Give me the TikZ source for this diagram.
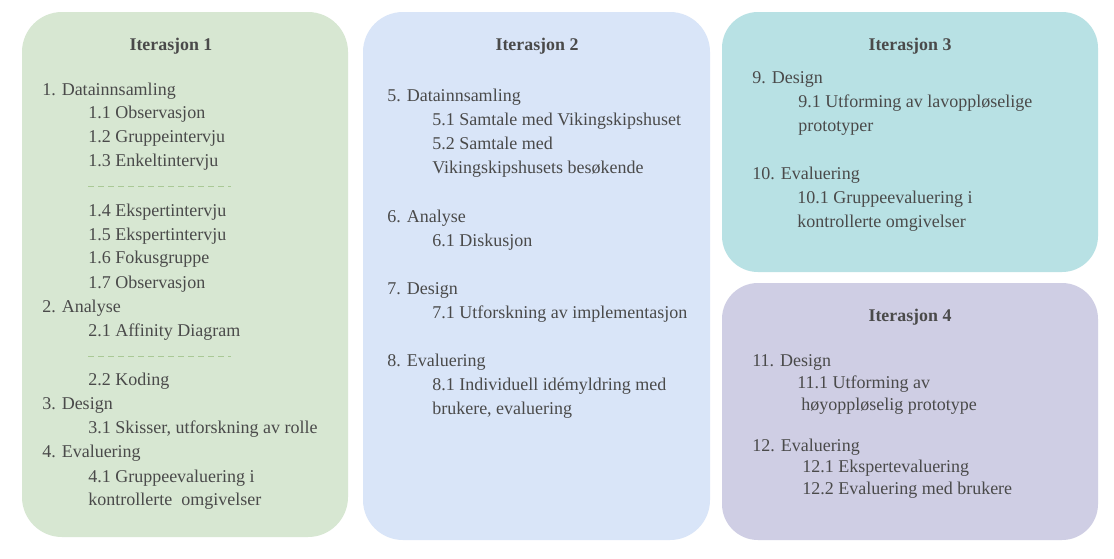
\documentclass[tikz,border=0pt]{standalone}
\usepackage{fontspec}
\setmainfont{Liberation Serif}
\begin{document}
\begin{tikzpicture}[x=0.75pt,y=-0.75pt,
  ttl/.style={font=\fontsize{13.4}{15}\selectfont\bfseries,text=txt,anchor=base,inner sep=0pt},
  itm/.style={font=\fontsize{13.5}{15}\selectfont,text=txt,anchor=base west,inner sep=0pt},
  sep/.style={draw=sepgreen,dash pattern=on 4.5pt off 3pt,line width=0.6pt}]
\definecolor{txt}{HTML}{4A4A4A}
\definecolor{gA}{HTML}{D7E7D2}
\definecolor{bA}{HTML}{D9E5F8}
\definecolor{cA}{HTML}{B8E1E4}
\definecolor{pA}{HTML}{CFCEE4}
\definecolor{sepgreen}{HTML}{A9C995}
\fill[white] (0,0) rectangle (1114,558);
\useasboundingbox (0,0) rectangle (1114,558);
% panels
\fill[gA,rounded corners=30pt] (22,12) rectangle (348,537);
\fill[bA,rounded corners=30pt] (363,12) rectangle (710,540);
\fill[cA,rounded corners=27pt] (722,12) rectangle (1098,272);
\fill[pA,rounded corners=27pt] (722,283) rectangle (1098,540);
% Iterasjon 1
\node[ttl] (t1) at (171,50) {Iterasjon 1};
\node[itm] (a1) at (42,95) {1. Datainnsamling};
\node[itm] (a11) at (88,118) {1.1 Observasjon};
\node[itm] (a12) at (88,142) {1.2 Gruppeintervju};
\node[itm] (a13) at (88,166) {1.3 Enkeltintervju};
\coordinate (s1a) at (88,186); \coordinate (s1b) at (231,186);
\draw[sep] (s1a) -- (s1b);
\node[itm] (a14) at (88,216) {1.4 Ekspertintervju};
\node[itm] (a15) at (88,240) {1.5 Ekspertintervju};
\node[itm] (a16) at (88,263) {1.6 Fokusgruppe};
\node[itm] (a17) at (88,288) {1.7 Observasjon};
\node[itm] (a2) at (42,312) {2. Analyse};
\node[itm] (a21) at (88,336) {2.1 Affinity Diagram};
\coordinate (s2a) at (88,356); \coordinate (s2b) at (231,356);
\draw[sep] (s2a) -- (s2b);
\node[itm] (a22) at (88,385) {2.2 Koding};
\node[itm] (a3) at (42,409) {3. Design};
\node[itm] (a31) at (88,433) {3.1 Skisser, utforskning av rolle};
\node[itm] (a4) at (42,457) {4. Evaluering};
\node[itm] (a41) at (88,482) {4.1 Gruppeevaluering i};
\node[itm] (a41b) at (88,505) {kontrollerte\ \ omgivelser};
% Iterasjon 2
\node[ttl] (t2) at (537,50) {Iterasjon 2};
\node[itm] (b5) at (387,101) {5. Datainnsamling};
\node[itm] (b51) at (432,125) {5.1 Samtale med Vikingskipshuset};
\node[itm] (b52) at (432,149) {5.2 Samtale med};
\node[itm] (b52b) at (432,173) {Vikingskipshusets besøkende};
\node[itm] (b6) at (387,222) {6. Analyse};
\node[itm] (b61) at (432,246) {6.1 Diskusjon};
\node[itm] (b7) at (387,294) {7. Design};
\node[itm] (b71) at (432,318) {7.1 Utforskning av implementasjon};
\node[itm] (b8) at (387,366) {8. Evaluering};
\node[itm] (b81) at (432,390) {8.1 Individuell idémyldring med};
\node[itm] (b81b) at (432,414) {brukere, evaluering};
% Iterasjon 3
\node[ttl] (t3) at (910,50) {Iterasjon 3};
\node[itm] (c9) at (752,83) {9. Design};
\node[itm] (c91) at (798,107) {9.1 Utforming av lavoppløselige};
\node[itm] (c91b) at (798,131) {prototyper};
\node[itm] (c10) at (752,179) {10. Evaluering};
\node[itm] (c101) at (797,203) {10.1 Gruppeevaluering i};
\node[itm] (c101b) at (797,227) {kontrollerte omgivelser};
% Iterasjon 4
\node[ttl] (t4) at (910,321) {Iterasjon 4};
\node[itm] (d11) at (752,366) {11. Design};
\node[itm] (d111) at (797,388) {11.1 Utforming av};
\node[itm] (d111b) at (801,410) {høyoppløselig prototype};
\node[itm] (d12) at (752,451) {12. Evaluering};
\node[itm] (d121) at (802,472) {12.1 Ekspertevaluering};
\node[itm] (d122) at (802,494) {12.2 Evaluering med brukere};
\end{tikzpicture}
\end{document}
